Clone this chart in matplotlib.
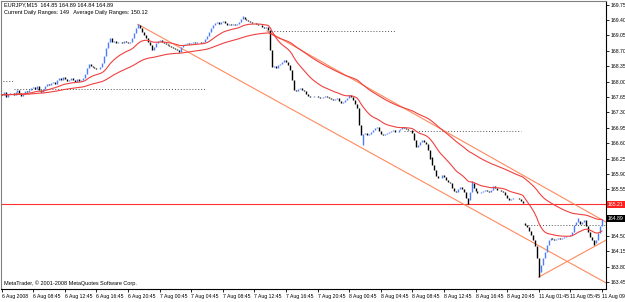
import numpy as np
import pandas as pd
import matplotlib
matplotlib.use("Agg")
import matplotlib.pyplot as plt
from matplotlib.transforms import blended_transform_factory

plt.rcParams["font.family"] = ["Liberation Sans", "DejaVu Sans"]

# EURJPY M15 closes, one per bar (bar 0 = 6 Aug 04:45)
closes = [
    # 0-40
    167.70, 167.76, 167.65, 167.72, 167.74, 167.74, 167.70, 167.76, 167.81, 167.74,
    167.67, 167.72, 167.79, 167.76, 167.81, 167.85, 167.88, 167.83, 167.90, 167.81,
    167.76, 167.83, 167.90, 167.95, 167.92, 167.97, 167.99, 167.95, 168.04, 168.08,
    168.04, 168.10, 168.06, 168.01, 168.04, 168.08, 168.04, 167.99, 168.06, 168.01,
    168.04,
    # 41-69
    168.08, 168.17, 168.31, 168.40, 168.35, 168.33, 168.31, 168.29, 168.29, 168.33,
    168.42, 168.58, 168.76, 168.90, 168.99, 168.90, 168.92, 168.88, 168.90, 168.90,
    168.88, 168.92, 168.90, 168.88, 168.90, 168.99, 169.10, 169.22, 169.28,
    # 70-104
    169.22, 169.13, 169.06, 168.99, 168.90, 168.83, 168.72, 168.79, 168.88, 168.92,
    168.94, 168.90, 168.88, 168.85, 168.83, 168.81, 168.79, 168.76, 168.74, 168.72,
    168.67, 168.79, 168.83, 168.85, 168.88, 168.85, 168.88, 168.90, 168.88, 168.90,
    168.90, 168.88, 168.90, 168.97, 169.03,
    # 105-135
    169.13, 169.22, 169.28, 169.33, 169.35, 169.31, 169.35, 169.38, 169.33, 169.28,
    169.31, 169.28, 169.31, 169.28, 169.31, 169.35, 169.42, 169.47, 169.42, 169.40,
    169.38, 169.35, 169.33, 169.33, 169.31, 169.28, 169.28, 169.24, 169.22, 169.24,
    169.17,
    # 136-180
    168.72, 168.33, 168.35, 168.31, 168.38, 168.40, 168.44, 168.49, 168.44, 168.38,
    168.26, 168.04, 167.81, 167.79, 167.83, 167.85, 167.81, 167.79, 167.72, 167.67,
    167.65, 167.65, 167.67, 167.67, 167.65, 167.63, 167.63, 167.65, 167.67, 167.65,
    167.63, 167.60, 167.58, 167.60, 167.63, 167.56, 167.51, 167.54, 167.58, 167.63,
    167.70, 167.65, 167.58, 167.49, 167.40,
    # 181-208
    167.01, 166.79, 166.81, 166.83, 166.79, 166.81, 166.86, 166.90, 166.95, 166.97,
    166.88, 166.81, 166.79, 166.81, 166.83, 166.86, 166.88, 166.90, 166.86, 166.86,
    166.90, 166.92, 166.97, 166.95, 166.92, 166.90, 166.90, 166.83,
    # 209-236
    166.67, 166.52, 166.56, 166.63, 166.67, 166.63, 166.58, 166.45, 166.29, 166.11,
    165.99, 165.86, 165.81, 165.81, 165.88, 165.83, 165.77, 165.72, 165.70, 165.58,
    165.52, 165.49, 165.56, 165.61, 165.56, 165.49, 165.36, 165.31,
    # 237-264
    165.49, 165.70, 165.58, 165.52, 165.47, 165.47, 165.49, 165.52, 165.54, 165.52,
    165.49, 165.54, 165.63, 165.58, 165.54, 165.54, 165.52, 165.49, 165.43, 165.36,
    165.31, 165.33, 165.36, 165.36, 165.36, 165.33, 165.29, 165.24,
    # 265-304 (Monday, after the weekend gap)
    164.74, 164.70, 164.61, 164.52, 164.40, 164.27, 164.00, 163.68, 163.84, 164.00,
    164.13, 164.29, 164.40, 164.45, 164.43, 164.40, 164.43, 164.45, 164.43, 164.45,
    164.47, 164.49, 164.49, 164.52, 164.59, 164.74, 164.81, 164.84, 164.77, 164.81,
    164.86, 164.72, 164.59, 164.47, 164.40, 164.34, 164.40, 164.56, 164.72, 164.89,
]

# opens that are not the previous close (first bar, weekend gap)
gap_opens = {0: 167.72, 265: 164.80}
# wicks that stick out of the bodies
high_wicks = {69: 169.31, 122: 169.50, 136: 169.18, 238: 165.74, 292: 164.91}
low_wicks = {183: 166.55, 217: 166.25, 236: 165.21, 272: 163.56, 300: 164.30}

# trend lines: (bar, price) -> (bar, price)
trend_lines = [
    ((69, 169.30), (306.1, 163.43)),
    ((134.4, 169.15), (306.1, 164.81)),
    ((272, 163.56), (306.1, 164.40)),
]
# daily open dotted segments: (bar_from, bar_to, price)
daily_opens = [
    (-1, 6, 168.01),
    (6, 103, 167.83),
    (135, 199, 169.15),
    (204, 263, 166.88),
    (265, 306.1, 164.74),
]
level_line = 165.21
last_price = 164.89

price_ticks = [169.75, 169.40, 169.05, 168.70, 168.35, 168.00, 167.65, 167.30,
               166.95, 166.60, 166.25, 165.90, 165.55, 165.20, 164.85, 164.50,
               164.15, 163.80, 163.45]
# tick labels hidden under the price boxes
covered_ticks = [165.20, 164.85]
time_ticks = list(range(0, 305, 16))
time_labels = ["6 Aug 2008", "6 Aug 08:45", "6 Aug 12:45", "6 Aug 16:45",
               "6 Aug 20:45", "7 Aug 00:45", "7 Aug 04:45", "7 Aug 08:45",
               "7 Aug 12:45", "7 Aug 16:45", "7 Aug 20:45", "8 Aug 00:45",
               "8 Aug 04:45", "8 Aug 08:45", "8 Aug 12:45", "8 Aug 16:45",
               "8 Aug 20:45", "11 Aug 01:45", "11 Aug 05:45", "11 Aug 09:45"]

c = np.array(closes)
idx = np.arange(len(c))
o = np.concatenate([[c[0]], c[:-1]])
for k, v in gap_opens.items():
    o[k] = v
hi = np.maximum(o, c)
lo = np.minimum(o, c)
for k, v in high_wicks.items():
    hi[k] = v
for k, v in low_wicks.items():
    lo[k] = v

fast = pd.Series(c).ewm(span=20, adjust=False).mean()
slow = pd.Series(c).ewm(span=60, adjust=False).mean()

fig = plt.figure(figsize=(6.25, 3.02), dpi=100)
ax = fig.add_axes([1 / 625, 13 / 302, 605 / 625, 288 / 302])
ax.set_xlim(-0.35, 306.1)
ax.set_ylim(163.29, 169.83)

# ---- dotted daily opens, level line ----
for b0, b1, p in daily_opens:
    ax.plot([b0, b1], [p, p], color="#505050", lw=0.7, ls=(0, (1, 2)), zorder=1)
ax.axhline(level_line, color="#FF3030", lw=0.8, zorder=1)

# ---- candles ----
bull = c >= o
ax.vlines(idx[bull], lo[bull], hi[bull], colors="#4A7CFF", lw=1.0, zorder=3)
ax.vlines(idx[~bull], lo[~bull], hi[~bull], colors="black", lw=1.0, zorder=3)

# ---- moving averages ----
ax.plot(idx, fast, color="#F04040", lw=0.8, zorder=4)
ax.plot(idx, slow, color="#F04040", lw=0.8, zorder=4)

# ---- trend lines ----
for (b0, p0), (b1, p1) in trend_lines:
    ax.plot([b0, b1], [p0, p1], color="#FF8A5C", lw=0.8, zorder=2)

# ---- axes look (MetaTrader style) ----
for s in ["left", "top"]:
    ax.spines[s].set_color("#808080")
for s in ax.spines.values():
    s.set_linewidth(0.8)
ax.yaxis.tick_right()
ax.set_yticks(price_ticks)
ax.set_yticklabels(["" if p in covered_ticks else f"{p:.2f}" for p in price_ticks])
ax.set_xticks(time_ticks)
ax.set_xticklabels(time_labels, ha="left")
ax.tick_params(axis="y", labelsize=3.7, length=2, width=0.6, pad=1)
ax.tick_params(axis="x", labelsize=3.7, length=2, width=0.6, pad=1.5)

tr = blended_transform_factory(ax.transAxes, ax.transData)
ax.text(1.003, level_line, f"{level_line:.2f}", transform=tr, fontsize=3.7,
        color="white", va="center", ha="left", clip_on=False, zorder=6,
        bbox=dict(boxstyle="square,pad=0.25", fc="#FF2020", ec="none"))
ax.text(1.003, last_price, f"{last_price:.2f}", transform=tr, fontsize=3.7,
        color="white", va="center", ha="left", clip_on=False, zorder=6,
        bbox=dict(boxstyle="square,pad=0.25", fc="black", ec="none"))

ax.text(0.005, 0.995, "EURJPY,M15  164.85 164.89 164.84 164.89",
        transform=ax.transAxes, fontsize=4.0, va="top", ha="left")
ax.text(0.005, 0.968, "Current Daily Ranges: 149   Average Daily Ranges: 150.12",
        transform=ax.transAxes, fontsize=4.0, va="top", ha="left")
ax.text(0.005, 0.012, "MetaTrader, \u00a9 2001-2008 MetaQuotes Software Corp.",
        transform=ax.transAxes, fontsize=4.0, va="bottom", ha="left")

fig.savefig("out.png", dpi=100)
